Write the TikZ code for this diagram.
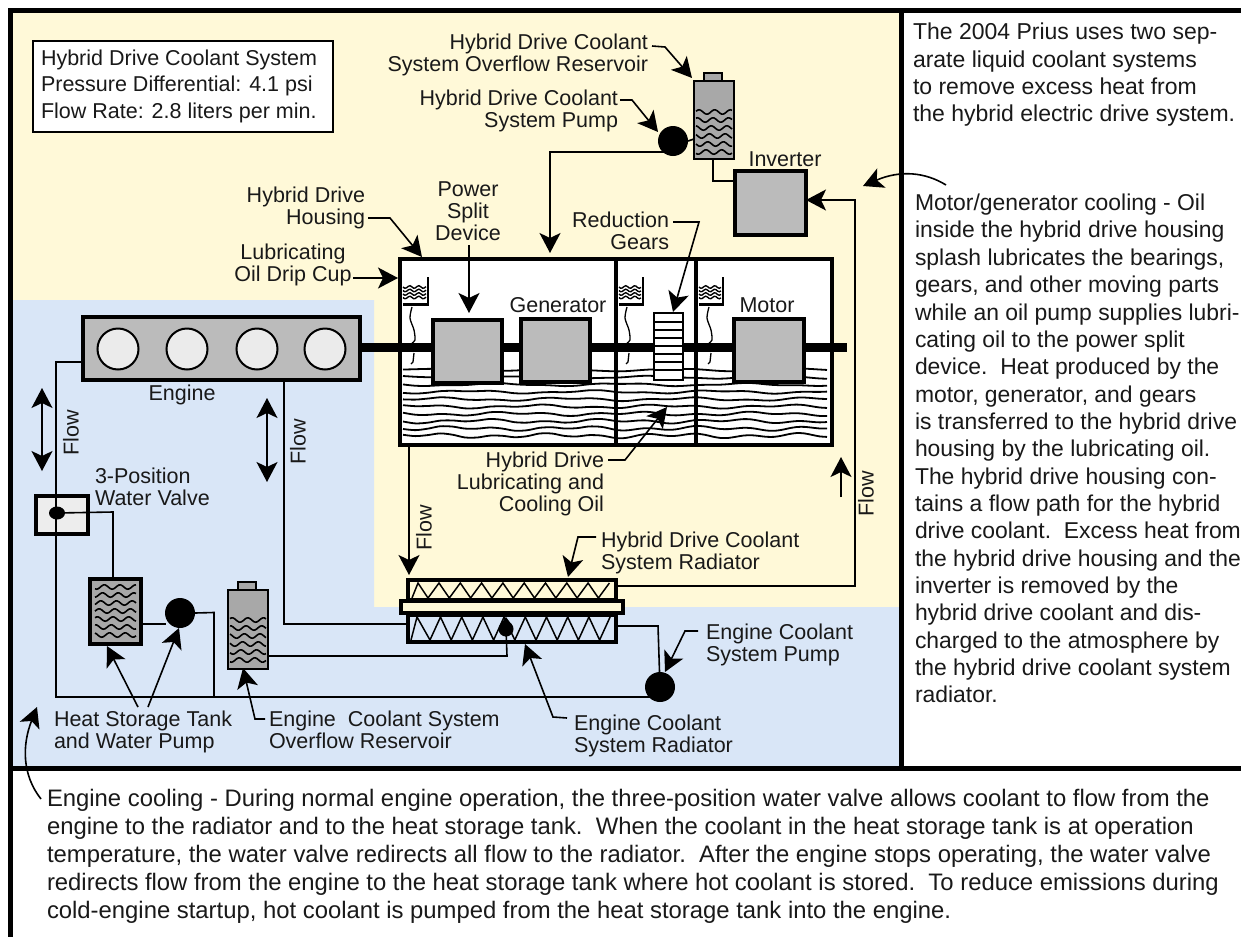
\documentclass[tikz,border=0pt]{standalone}
\usepackage{fontspec}
\setmainfont{Liberation Sans}
\usetikzlibrary{arrows.meta,shapes.geometric}
\definecolor{yel}{HTML}{FFF9D8}
\definecolor{blu}{HTML}{D9E6F7}
\definecolor{gr}{HTML}{BBBBBB}
\definecolor{tankc}{HTML}{A8A8A8}
\tikzset{
  gbox/.style={draw,line width=3.5pt,fill=gr,outer sep=0pt,inner sep=0pt},
  lab/.style={inner sep=0pt,outer sep=0pt,font=\fontsize{21.5}{22}\selectfont,text=black!90},
  ltxt/.style={inner sep=0pt,outer sep=0pt,anchor=north west,align=left,text=black!90},
  pipe/.style={line width=1.6pt,line join=miter},
  lead/.style={line width=1.6pt},
  arr/.style={-{Stealth[length=20pt,width=21pt,inset=5pt]}},
  arrs/.style={{Stealth[length=20pt,width=21pt,inset=5pt]}-{Stealth[length=20pt,width=21pt,inset=5pt]}},
  wav/.style={line width=1.6pt},
  dot/.style={circle,fill=black,inner sep=0pt,outer sep=0pt},
  frame/.style={line width=4.5pt,draw=black}
}
\newcommand{\wavs}[5]{\foreach \yy in {#3,#5,...,#4}{\draw[wav] plot[smooth,samples=25,domain=#1:#2] (\x,{\yy+2.2*sin((\x-#1)*23+\yy*5)});}}
\newcommand{\oil}[2]{\foreach \yy in {370,377.3,...,442}{\draw[line width=1.8pt] plot[smooth,samples=18,domain=#1:#2] (\x,{\yy+1.2*sin(\x*2.9+\yy*11)+1.0*sin(\x*7.1)*(\yy-360)/50});}}
\newcommand{\dripcup}[2]{\draw[line width=2.2pt] (#1,277) -- (#1,304.5) -- (#2,304.5);
  \foreach \yy in {287,290.5,294,297.5}{\draw[line width=1.4pt] plot[smooth,samples=14,domain=#2:#1-2] (\x,{\yy+1.3*sin((\x-#2)*40)});}}
\newcommand{\drip}[1]{\draw[line width=1.3pt] plot[smooth] coordinates {(#1-1,307)(#1-3,318)(#1+1,330)(#1+2,340)(#1-1,343)};
  \draw[line width=1.3pt] (#1+1,353) -- (#1,362) -- (#1-2,364);}
\begin{document}
\begin{tikzpicture}[x=1pt,y=-1pt]
\useasboundingbox (0,0) rectangle (1241,937);
\fill[white] (0,0) rectangle (1241,937);
\fill[yel] (12,12) rectangle (900,767);
\fill[blu] (12,300) -- (374,300) -- (374,607) -- (900,607) -- (900,767) -- (12,767) -- cycle;
\draw[frame] (1241,10.5) -- (10.5,10.5) -- (10.5,937);
\draw[frame] (901.5,10.5) -- (901.5,768);
\draw[frame] (10.5,768.5) -- (1241,768.5);
\node[draw,line width=2pt,fill=white,minimum width=300pt,minimum height=91pt,inner sep=0pt,outer sep=0pt] (info) at (182.5,86) {};
\node[ltxt,font=\fontsize{21.5}{26.4}\selectfont] (infotxt) at (41,50) {Hybrid Drive Coolant System\\Pressure Differential: 4.1 psi\\Flow Rate: 2.8 liters per min.};
\node[draw,line width=3.5pt,fill=white,minimum width=432pt,minimum height=186pt,inner sep=0pt,outer sep=0pt] (hous) at (616,352) {};
\oil{403}{614}\oil{618}{694}\oil{698}{827}
\draw[line width=3.5pt] (616,257) -- (616,445) (696,257) -- (696,445);
\dripcup{428}{403}\dripcup{643}{619}\dripcup{723}{699}
\drip{413}\drip{628}\drip{710}
\node[fill=black,minimum width=487pt,minimum height=9.5pt,inner sep=0pt,outer sep=0pt] (shaft) at (603.5,347.5) {};
\node[draw,line width=2pt,fill=white,minimum width=29pt,minimum height=67pt,inner sep=0pt,outer sep=0pt] (gears) at (668.5,346.5) {};
\foreach \yy in {322,330,...,376}{\draw[line width=1.5pt] (654,\yy) -- (683,\yy);}
\node[gbox,minimum width=69pt,minimum height=63pt] (psd) at (467.5,351.5) {};
\node[gbox,minimum width=69pt,minimum height=63pt] (gen) at (555.5,350.5) {};
\node[gbox,minimum width=70pt,minimum height=63pt] (mot) at (769,350.5) {};
\node[gbox,minimum width=71pt,minimum height=64pt] (inv) at (770.5,203) {};
\node[gbox,minimum width=277pt,minimum height=63pt] (eng) at (221.5,348.5) {};
\foreach \cx/\nm in {118/c1,187/c2,257/c3,325/c4}{\node[circle,draw,line width=2pt,fill=black!8,minimum size=41pt,inner sep=0pt] (\nm) at (\cx,349) {};}
\coordinate (mainR) at (660,697);
\draw[pipe] (83,362) -- (56,362) -- (56,697) -- (mainR);
\node[draw,line width=3.5pt,fill=black!7,minimum width=52pt,minimum height=38pt,inner sep=0pt,outer sep=0pt] (valve) at (62,515) {};
\draw[pipe] (56,496) -- (56,534);
\node[dot,ellipse,minimum width=16pt,minimum height=13pt] (vdot) at (57,513) {};
\node[draw,line width=3.5pt,fill=tankc,minimum width=51pt,minimum height=65pt,inner sep=0pt,outer sep=0pt] (hst) at (115.5,611.5) {};
\wavs{95}{136}{587}{640}{595}
\node[dot,minimum size=30pt] (hpump) at (180,613) {};
\draw[pipe] (vdot.center) -- (113,512) -- (113,579);
\draw[pipe] (141,624) -- (166,624);
\draw[pipe] (hpump.east) -- (214,612.5) -- (214,697);
\node[draw,line width=1.6pt,fill=tankc,minimum width=18pt,minimum height=8pt,inner sep=0pt,outer sep=0pt] (ecap) at (247,586) {};
\node[draw,line width=2pt,fill=tankc,minimum width=40pt,minimum height=79pt,inner sep=0pt,outer sep=0pt] (etank) at (248,629.5) {};
\wavs{230}{266}{620}{665}{628}
\node[draw,line width=3.5pt,fill=yel,minimum width=208pt,minimum height=20pt,inner sep=0pt,outer sep=0pt] (radt) at (512,590) {};
\node[draw,line width=3.5pt,fill=yel,minimum width=222pt,minimum height=12pt,inner sep=0pt,outer sep=0pt] (plate) at (512,607) {};
\node[draw,line width=3.5pt,fill=blu,minimum width=208pt,minimum height=27pt,inner sep=0pt,outer sep=0pt] (radb) at (512,628.5) {};
\draw[line width=1.5pt,line join=miter] (412,598) -- (418,583) -- (428,598) \foreach \k in {0,...,7}{ -- ++(11,-15) -- ++(10.3,15)} -- ++(11,-15);
\draw[line width=1.5pt,line join=miter] (411,640) -- (417,617) -- (430,640) \foreach \k in {0,...,7}{ -- ++(10.5,-23) -- ++(10.7,23)} -- ++(10.5,-23);
\node[dot,minimum size=15pt] (rdot) at (506,629) {};
\fill (506,617) -- (500,625) -- (512,625) -- cycle;
\node[dot,minimum size=30pt] (epump) at (660,687) {};
\draw[pipe] (284,380) -- (284,624) -- (408,624);
\draw[pipe] (268,656) -- (507,656) -- (rdot.center);
\draw[pipe] (616,626) -- (658,626) -- (epump.center);
\node[draw,line width=1.6pt,fill=tankc,minimum width=18pt,minimum height=9pt,inner sep=0pt,outer sep=0pt] (hcap) at (713,77.5) {};
\node[draw,line width=2pt,fill=tankc,minimum width=40pt,minimum height=78pt,inner sep=0pt,outer sep=0pt] (htank) at (714,120) {};
\wavs{696}{732}{112}{156}{120}
\node[dot,minimum size=30pt] (hypump) at (673,141) {};
\draw[pipe] (hypump.east) -- (694,139);
\draw[pipe] (713,159) -- (713,181) -- (735,181);
\draw[pipe,arr] (665,152) -- (550,152) -- (550,253);
\draw[pipe,arr] (616,586) -- (855,586) -- (855,200) -- (inv.east|-0,200);
\draw[pipe,arr] (409,447) -- (409,575);
\coordinate (fa1) at (42,388); \coordinate (fa2) at (42,471);
\coordinate (fb1) at (267,398); \coordinate (fb2) at (267,482);
\coordinate (fc1) at (841,497); \coordinate (fc2) at (841,457);
\draw[pipe,arrs] (fa1) -- (fa2);
\draw[pipe,arrs] (fb1) -- (fb2);
\draw[pipe,arr] (fc1) -- (fc2);
\node[lab,anchor=base east,align=right] (l1) at (648,71) {Hybrid Drive Coolant\\System Overflow Reservoir};
\node[lab,anchor=base east,align=right] (l2) at (618,127) {Hybrid Drive Coolant\\System Pump};
\node[lab,anchor=base east,align=right] (l3) at (365,224) {Hybrid Drive\\Housing};
\node[lab,anchor=base,align=center] (l4) at (293,281) {Lubricating\\Oil Drip Cup};
\node[lab,anchor=base,align=center] (l5) at (468,240) {Power\\Split\\Device};
\node[lab,anchor=base] (l6) at (558,312) {Generator};
\node[lab,anchor=base] (l7) at (767,312) {Motor};
\node[lab,anchor=base] (l8) at (785,166) {Inverter};
\node[lab,anchor=base east,align=right] (l9) at (669,249) {Reduction\\Gears};
\node[lab,anchor=base] (l10) at (182,400) {Engine};
\node[lab,anchor=base west,align=left] (l11) at (95,505) {3-Position\\Water Valve};
\node[lab,anchor=base east,align=right] (l12) at (604,511) {Hybrid Drive\\Lubricating and\\Cooling Oil};
\node[lab,anchor=base west,align=left] (l13) at (601,569) {Hybrid Drive Coolant\\System Radiator};
\node[lab,anchor=base west,align=left] (l14) at (706,661) {Engine Coolant\\System Pump};
\node[lab,anchor=base west,align=left] (l15) at (54,748) {Heat Storage Tank\\and Water Pump};
\node[lab,anchor=base west,align=left] (l16) at (269,748) {Engine\ \ Coolant System\\Overflow Reservoir};
\node[lab,anchor=base west,align=left] (l17) at (574,752) {Engine Coolant\\System Radiator};
\node[lab,rotate=90] (f1) at (71,433) {Flow};
\node[lab,rotate=90] (f2) at (298,442) {Flow};
\node[lab,rotate=90] (f3) at (424,528) {Flow};
\node[lab,rotate=90] (f4) at (866,494) {Flow};
\draw[lead,arr] (652,46) -- (665,47) -- (692,78);
\draw[lead,arr] (620,100) -- (632,100) -- (658,132);
\draw[lead,arr] (368,218) -- (390,218) -- (422,257);
\draw[lead,arr] (353,278) -- (398,278);
\draw[lead,arr] (469,245) -- (469,313);
\draw[lead,arr] (673,222) -- (699,222) -- (673,312);
\draw[lead,arr] (608,460) -- (625,460) -- (667,407);
\draw[lead,arr] (138,707) -- (107,646);
\draw[lead,arr] (148,707) -- (179,628);
\draw[lead,arr] (265,719) -- (255,719) -- (243,668);
\draw[lead,arr] (567,718) -- (553,717) -- (525,644);
\draw[lead,arr] (596,537) -- (578,537) -- (568,577);
\draw[lead,arr] (698,631) -- (685,631) -- (665,672);
\draw[lead,arr] (946,185) .. controls (925,172) and (900,170) .. (863,186);
\draw[lead,arr] (41,799) .. controls (22,775) and (22,745) .. (37,707);
\node[ltxt,font=\fontsize{23}{27.4}\selectfont] (t1) at (913,23) {The 2004 Prius uses two sep-\\arate liquid coolant systems\\to remove excess heat from\\the hybrid electric drive system.};
\node[ltxt,font=\fontsize{22.9}{27.35}\selectfont] (t2) at (915,194) {Motor/generator cooling - Oil\\inside the hybrid drive housing\\splash lubricates the bearings,\\gears, and other moving parts\\while an oil pump supplies lubri-\\cating oil to the power split\\device.\ \ Heat produced by the\\motor, generator, and gears\\is transferred to the hybrid drive\\housing by the lubricating oil.\\The hybrid drive housing con-\\tains a flow path for the hybrid\\drive coolant.\ \ Excess heat from\\the hybrid drive housing and the\\inverter is removed by the\\hybrid drive coolant and dis-\\charged to the atmosphere by\\the hybrid drive coolant system\\radiator.};
\node[ltxt,font=\fontsize{23.85}{28}\selectfont] (t3) at (47,789.5) {Engine cooling - During normal engine operation, the three-position water valve allows coolant to flow from the\\engine to the radiator and to the heat storage tank.\ \ When the coolant in the heat storage tank is at operation\\temperature, the water valve redirects all flow to the radiator.\ \ After the engine stops operating, the water valve\\redirects flow from the engine to the heat storage tank where hot coolant is stored.\ \ To reduce emissions during\\cold-engine startup, hot coolant is pumped from the heat storage tank into the engine.};
\end{tikzpicture}
\end{document}
